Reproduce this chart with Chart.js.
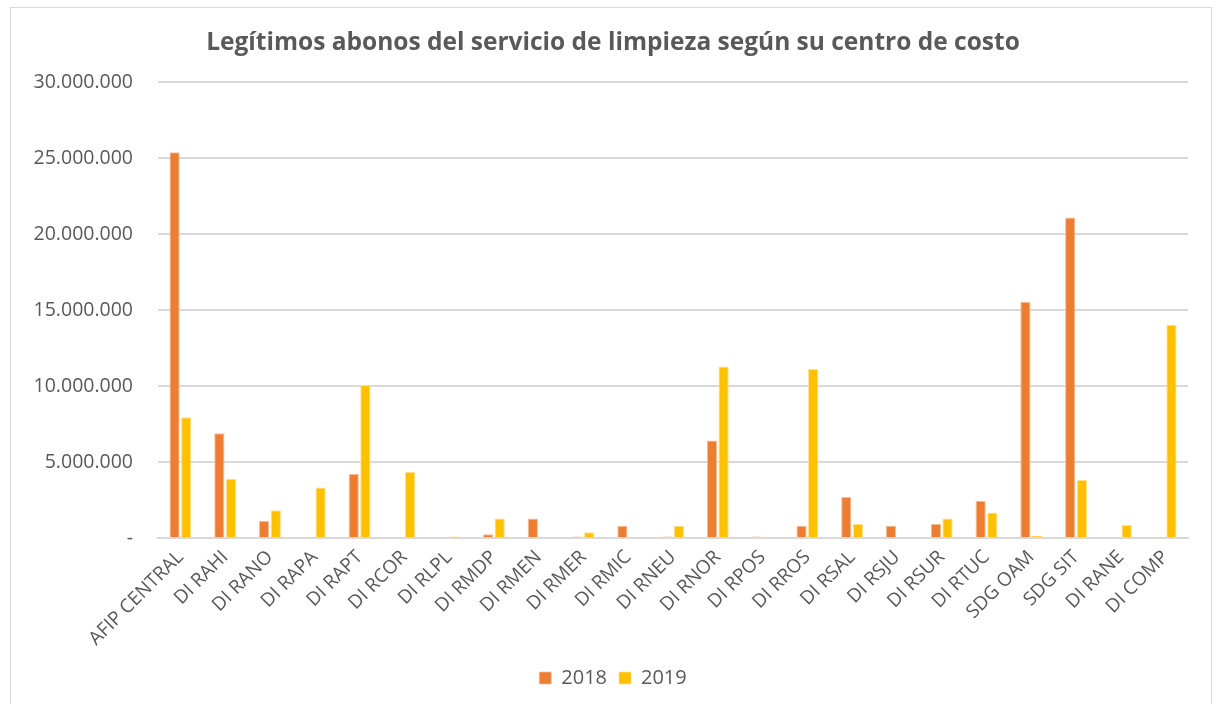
<!DOCTYPE html>
<html>
<head>
<meta charset="utf-8">
<script src="https://cdn.jsdelivr.net/npm/chart.js@4"></script>
<style>
    html, body { margin: 0; padding: 0; background: #fff; }
    #frame {
        position: absolute; left: 10px; top: 7px; width: 1202px; height: 720px;
        border: 1px solid #D9D9D9; box-sizing: border-box;
    }
    #wrap { position: absolute; left: 0; top: 0; width: 1216px; height: 704px; }
</style>
</head>
<body>
<div id="frame"></div>
<div id="wrap"><canvas id="barChart"></canvas></div>
<script>
const categories = [
    'AFIP CENTRAL', 'DI RAHI', 'DI RANO', 'DI RAPA', 'DI RAPT', 'DI RCOR', 'DI RLPL',
    'DI RMDP', 'DI RMEN', 'DI RMER', 'DI RMIC', 'DI RNEU', 'DI RNOR', 'DI RPOS',
    'DI RROS', 'DI RSAL', 'DI RSJU', 'DI RSUR', 'DI RTUC', 'SDG OAM', 'SDG SIT',
    'DI RANE', 'DI COMP'
];

const values2018 = [
    25400000, 6900000, 1130000, 0, 4220000, 0, 0,
    250000, 1280000, 100000, 800000, 100000, 6420000, 100000,
    800000, 2700000, 800000, 930000, 2450000, 15560000, 21100000,
    0, 0
];

const values2019 = [
    7950000, 3900000, 1830000, 3330000, 10070000, 4370000, 100000,
    1280000, 0, 380000, 0, 800000, 11300000, 0,
    11120000, 930000, 0, 1280000, 1680000, 150000, 3820000,
    860000, 14040000
];

const yTicks = [0, 5000000, 10000000, 15000000, 20000000, 25000000, 30000000];

const colors = {
    y2018: '#ED7D31',
    y2019: '#FFC000',
    text: '#595959',
    grid: '#D9D9D9'
};

const font = "'Open Sans', sans-serif";

function formatTick(value) {
    if (value === 0) return '-';
    return value.toString().replace(/\B(?=(\d{3})+(?!\d))/g, '.');
}

// y labels stick out left of the (narrow) y box, so widen its clip area
const unclipYLabels = {
    id: 'unclipYLabels',
    beforeDraw(chart) {
        chart.scales.y.left = 0;
    }
};

const ctx = document.getElementById('barChart').getContext('2d');

new Chart(ctx, {
    type: 'bar',
    data: {
        labels: categories,
        datasets: [
            {
                label: '2018',
                data: values2018,
                backgroundColor: colors.y2018,
                borderColor: '#F6BE98',
                borderWidth: { left: 1, right: 1, top: 1, bottom: 0 },
                categoryPercentage: 0.52,
                barPercentage: 0.88
            },
            {
                label: '2019',
                data: values2019,
                backgroundColor: colors.y2019,
                borderColor: '#FFE08A',
                borderWidth: { left: 1, right: 1, top: 1, bottom: 0 },
                categoryPercentage: 0.52,
                barPercentage: 0.88
            }
        ]
    },
    plugins: [unclipYLabels],
    options: {
        responsive: true,
        maintainAspectRatio: false,
        animation: false,
        layout: {
            // title and legend are centred between these paddings
            padding: { left: 38, right: 28, top: 0, bottom: 6 }
        },
        plugins: {
            title: {
                display: true,
                text: 'Legítimos abonos del servicio de limpieza según su centro de costo',
                color: colors.text,
                font: { family: font, size: 24.5, weight: 'bold' },
                padding: { top: 28, bottom: 25 }
            },
            legend: {
                position: 'bottom',
                labels: {
                    color: colors.text,
                    font: { family: font, size: 20 },
                    boxWidth: 12,
                    boxHeight: 12,
                    padding: 12
                }
            },
            tooltip: { enabled: false }
        },
        scales: {
            x: {
                grid: { display: false },
                border: { color: colors.grid, width: 2 },
                ticks: {
                    color: colors.text,
                    font: { family: font, size: 19 },
                    maxRotation: 45,
                    minRotation: 45,
                    autoSkip: false,
                    padding: 0
                },
                afterFit: scale => { scale.height = 118; }
            },
            y: {
                min: 0,
                max: 30000000,
                afterBuildTicks: scale => {
                    scale.ticks = yTicks.map(v => ({ value: v }));
                },
                grid: { color: colors.grid, lineWidth: 2, drawTicks: false },
                border: { display: false },
                ticks: {
                    color: colors.text,
                    font: { family: font, size: 19.5 },
                    padding: 25,
                    callback: value => formatTick(value)
                },
                afterFit: scale => { scale.width = 120; }
            }
        }
    }
});
</script>
</body>
</html>
